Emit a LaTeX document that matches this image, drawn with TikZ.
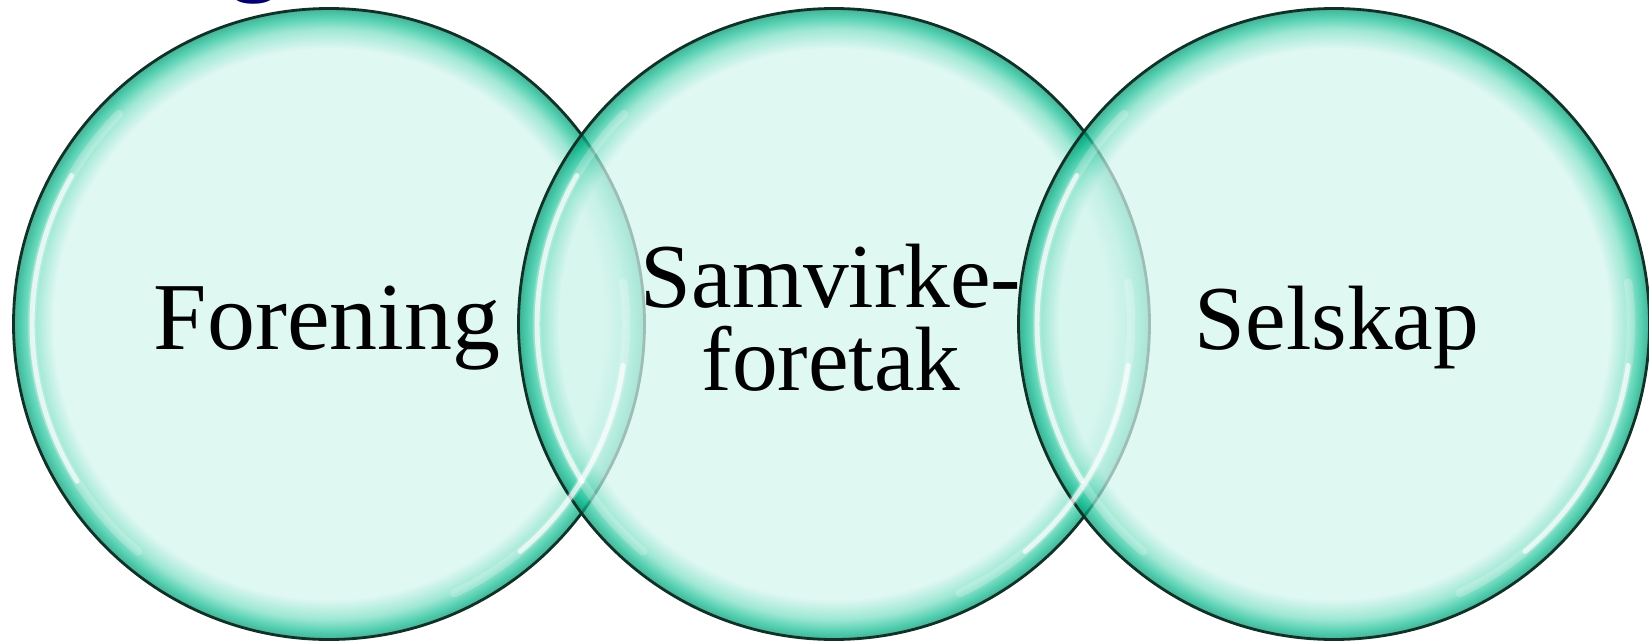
\documentclass[tikz,border=0pt]{standalone}
\usepackage{fontspec}
\setmainfont{Liberation Serif}
\usetikzlibrary{positioning}
\definecolor{mint}{RGB}{212,245,237}
\definecolor{rimlight}{RGB}{120,222,195}
\definecolor{rimteal}{RGB}{15,188,145}
\definecolor{rimdark}{RGB}{0,145,108}
\definecolor{edgeline}{RGB}{15,50,40}
\definecolor{titleblue}{RGB}{0,0,110}
\pgfdeclareradialshading{bubblerim}{\pgfpoint{0bp}{0bp}}{color(0bp)=(mint); color(21.8bp)=(mint); color(23.4bp)=(rimlight); color(24.4bp)=(rimteal); color(25bp)=(rimdark); color(50bp)=(rimdark)}
\tikzset{
  bubble/.style    = {circle, minimum size=63.1mm, inner sep=0pt, shade, shading=bubblerim,
                      fill opacity=0.72, draw=edgeline, draw opacity=1, line width=0.8pt},
  gloss/.style     = {white, line width=1.4pt, opacity=0.7, line cap=round},
  faintgloss/.style= {white, line width=2.4pt, opacity=0.22, line cap=round},
  bubbletext/.style= {font=\fontsize{26}{23.5}\selectfont, text=black, inner sep=0pt},
  heading/.style   = {font=\fontsize{28}{30}\selectfont\bfseries, text=titleblue, inner sep=0pt},
}
\begin{document}
\begin{tikzpicture}
  \useasboundingbox (0,0) rectangle (16.49,6.43);
  % cut-off heading above the circles
  \begin{scope}
    \clip (0,0) rectangle (16.49,6.43);
    \node[heading, anchor=base] (title) at (2.55,6.6) {g};
  \end{scope}
  % the three circles
  \node[bubble] (forening) at (3.29,3.19) {};
  \node[bubble] (samvirke) at (8.34,3.19) {};
  \node[bubble] (selskap)  at (13.34,3.19) {};
  % glossy highlights
  \draw[faintgloss] ([shift={(135:2.97)}]forening.center) arc[start angle=135, end angle=230, radius=2.97];
  \draw[gloss] ([shift={(150:2.97)}]forening.center) arc[start angle=150, end angle=212, radius=2.97];
  \draw[faintgloss] ([shift={(-65:2.97)}]forening.center) arc[start angle=-65, end angle=8, radius=2.97];
  \draw[gloss] ([shift={(-50:2.97)}]forening.center) arc[start angle=-50, end angle=-8, radius=2.97];
  \draw[faintgloss] ([shift={(135:2.97)}]samvirke.center) arc[start angle=135, end angle=230, radius=2.97];
  \draw[gloss] ([shift={(150:2.97)}]samvirke.center) arc[start angle=150, end angle=212, radius=2.97];
  \draw[faintgloss] ([shift={(-65:2.97)}]samvirke.center) arc[start angle=-65, end angle=8, radius=2.97];
  \draw[gloss] ([shift={(-50:2.97)}]samvirke.center) arc[start angle=-50, end angle=-8, radius=2.97];
  \draw[faintgloss] ([shift={(135:2.97)}]selskap.center) arc[start angle=135, end angle=230, radius=2.97];
  \draw[gloss] ([shift={(150:2.97)}]selskap.center) arc[start angle=150, end angle=212, radius=2.97];
  \draw[faintgloss] ([shift={(-65:2.97)}]selskap.center) arc[start angle=-65, end angle=8, radius=2.97];
  \draw[gloss] ([shift={(-50:2.97)}]selskap.center) arc[start angle=-50, end angle=-8, radius=2.97];
  % labels
  \node[bubbletext, font=\fontsize{27.3}{28}\selectfont, anchor=base] (foreningtext)
    at ([xshift=-0.2mm,yshift=-2.5mm]forening.center) {Forening};
  \node[bubbletext, align=center] (samvirketext) at ([xshift=-0.3mm,yshift=0.6mm]samvirke.center) {Samvirke-\\foretak};
  \node[bubbletext, anchor=base] (selskaptext) at ([xshift=0.3mm,yshift=-2.5mm]selskap.center) {Selskap};
\end{tikzpicture}
\end{document}
